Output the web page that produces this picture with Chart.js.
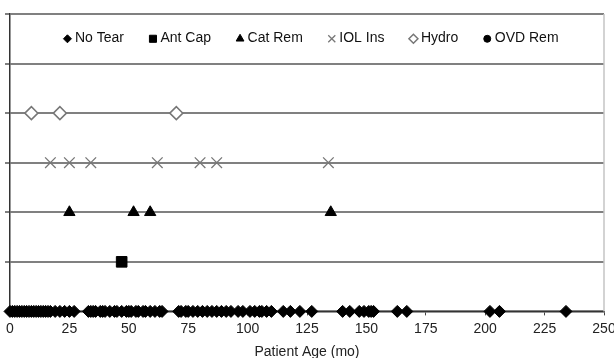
<!DOCTYPE html>
<html>
<head>
<meta charset="utf-8">
<script src="https://cdn.jsdelivr.net/npm/chart.js@4/dist/chart.umd.min.js"></script>
<style>
  html, body { margin: 0; padding: 0; background: #ffffff; }
  #wrap { width: 614px; height: 358px; }
</style>
</head>
<body>
<div id="wrap"><canvas id="c" width="614" height="358"></canvas></div>
<script>
// Outcome groups, each drawn on its own horizontal level
const seriesNames = ['No Tear', 'Ant Cap', 'Cat Rem', 'IOL Ins', 'Hydro', 'OVD Rem'];

// Patient ages (months) per outcome
const noTearAges = [0, 1, 2, 3, 4, 5, 6, 7, 8, 9, 10, 11, 12, 13, 14, 15, 16, 17, 19, 21, 23, 25, 27,
  33, 34, 35, 36, 38, 39, 40, 42, 44, 45, 47, 49, 50, 51, 53, 54, 56, 57, 59, 61, 63, 64,
  71, 72, 74, 75, 77, 79, 81, 83, 85, 87, 89, 91, 93, 96, 98, 101, 103, 105, 106, 108, 110,
  115, 118, 122, 127, 140, 143, 147, 149, 151, 152, 153, 163, 167, 202, 206, 234];
const antCapAges = [47];
const catRemAges = [25, 52, 59, 135];
const iolInsAges = [17, 25, 34, 62, 80, 87, 134];
const hydroAges = [9, 21, 70];
const ovdRemAges = [];

// Axis ticks
const xTicks = [0, 25, 50, 75, 100, 125, 150, 175, 200, 225, 250];
const yLevels = [0, 1, 2, 3, 4, 5, 6];

const agesByGroup = [noTearAges, antCapAges, catRemAges, iolInsAges, hydroAges, ovdRemAges];

const markerStyles = [
  { pointStyle: 'rectRot', radius: 6, legendRadius: 4, fill: '#000000', stroke: '#000000', width: 1 },
  { pointStyle: 'rect', radius: 7.5, legendRadius: 5, fill: '#000000', stroke: '#000000', width: 1 },
  { pointStyle: 'triangle', radius: 6.5, legendRadius: 4.5, fill: '#000000', stroke: '#000000', width: 1 },
  { pointStyle: 'crossRot', radius: 7.5, legendRadius: 5, fill: '#777777', stroke: '#777777', width: 1.3 },
  { pointStyle: 'rectRot', radius: 6.5, legendRadius: 4.5, fill: '#ffffff', stroke: '#777777', width: 1.5 },
  { pointStyle: 'circle', radius: 4, legendRadius: 3.5, fill: '#000000', stroke: '#000000', width: 1 }
];

const datasets = seriesNames.map((name, i) => ({
  label: name,
  data: agesByGroup[i].map(a => ({ x: a, y: i })),
  pointStyle: markerStyles[i].pointStyle,
  pointRadius: markerStyles[i].radius,
  pointHoverRadius: markerStyles[i].radius,
  backgroundColor: markerStyles[i].fill,
  borderColor: markerStyles[i].stroke,
  pointBackgroundColor: markerStyles[i].fill,
  pointBorderColor: markerStyles[i].stroke,
  pointBorderWidth: markerStyles[i].width,
  borderWidth: markerStyles[i].width,
  showLine: false,
  clip: false
}));

const FONT = "'Liberation Sans', Arial, sans-serif";
const FONT_SIZE = 14;

// Light right-hand frame edge of the plot area
const rightFrame = {
  id: 'rightFrame',
  beforeDatasetsDraw(chart) {
    const { ctx, chartArea } = chart;
    ctx.save();
    ctx.strokeStyle = '#c4c4c4';
    ctx.lineWidth = 1.5;
    ctx.beginPath();
    ctx.moveTo(chartArea.right, chartArea.top);
    ctx.lineTo(chartArea.right, chartArea.bottom);
    ctx.stroke();
    ctx.restore();
  }
};

// Single-row legend drawn inside the top band of the plot area
const insideLegend = {
  id: 'insideLegend',
  afterDatasetsDraw(chart) {
    const { ctx, chartArea } = chart;
    const yScale = chart.scales.y;
    const rowY = (yScale.getPixelForValue(6) + yScale.getPixelForValue(5)) / 2 - 1;
    ctx.save();
    ctx.font = FONT_SIZE + 'px ' + FONT;
    ctx.textBaseline = 'middle';
    ctx.textAlign = 'left';
    // marker half-width, marker centre to text start, text end to next marker centre
    const markerHalf = 4, textOffset = 7.5, gap = 29;
    const widths = chart.data.datasets.map(ds => ctx.measureText(ds.label).width);
    let total = 0;
    widths.forEach((w, i) => { total += markerHalf + textOffset + w + (i < widths.length - 1 ? gap - markerHalf : 0); });
    let cx = (chartArea.left + chartArea.right) / 2 - total / 2 + 4 + markerHalf;
    chart.data.datasets.forEach((ds, i) => {
      const m = markerStyles[i];
      ctx.fillStyle = m.fill;
      ctx.strokeStyle = m.stroke;
      ctx.lineWidth = m.width;
      Chart.helpers.drawPoint(ctx, { pointStyle: m.pointStyle, radius: m.legendRadius, rotation: 0, borderWidth: m.width }, cx, rowY + 1);
      ctx.fillStyle = '#111111';
      ctx.fillText(ds.label, cx + textOffset, rowY);
      cx = cx + textOffset + widths[i] + gap;
    });
    ctx.restore();
  }
};

new Chart(document.getElementById('c'), {
  type: 'scatter',
  data: { datasets },
  plugins: [rightFrame, insideLegend],
  options: {
    responsive: false,
    animation: false,
    devicePixelRatio: 1,
    layout: { padding: { top: 14, left: 5, right: 0, bottom: -3 } },
    plugins: {
      tooltip: { enabled: false },
      legend: { display: false }
    },
    scales: {
      x: {
        type: 'linear',
        min: 0,
        max: 250,
        afterBuildTicks: axis => { axis.ticks = xTicks.map(v => ({ value: v })); },
        // let the last tick label run up to the canvas edge
        afterFit: axis => { axis.paddingRight = 10; axis.paddingLeft = 0; },
        grid: { drawOnChartArea: false, drawTicks: true, tickLength: 4, color: '#444444' },
        border: { color: '#333333', width: 1.5 },
        ticks: { color: '#222222', padding: 5, maxRotation: 0, font: { family: FONT, size: FONT_SIZE } },
        title: {
          display: true,
          text: 'Patient Age (mo)',
          color: '#222222',
          padding: { top: 2, bottom: 0 },
          font: { family: FONT, size: FONT_SIZE }
        }
      },
      y: {
        type: 'linear',
        min: 0,
        max: 6,
        afterBuildTicks: axis => { axis.ticks = yLevels.map(v => ({ value: v })); },
        grid: { color: '#808080', lineWidth: 2, tickLength: 5, drawTicks: true },
        border: { color: '#333333', width: 1.5 },
        ticks: { callback: () => '', padding: 0 }
      }
    }
  }
});
</script>
</body>
</html>
